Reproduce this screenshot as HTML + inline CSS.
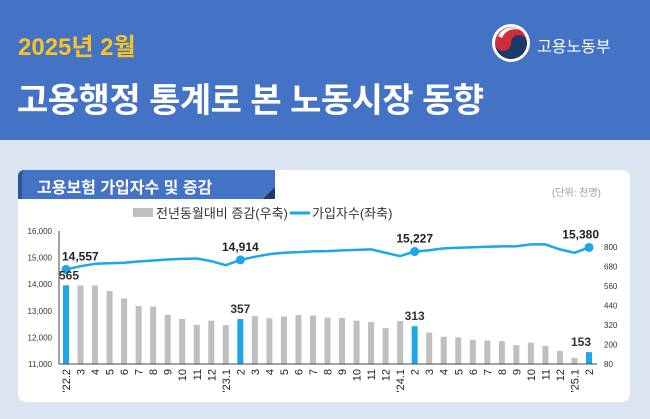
<!DOCTYPE html>
<html><head><meta charset="utf-8">
<style>
body{margin:0;width:650px;height:419px;overflow:hidden;background:#DCE4F2;font-family:"Liberation Sans","Noto Sans CJK KR",sans-serif;}
#hdr{position:absolute;left:0;top:0;width:650px;height:140px;background:#4472C4;}
.abs{position:absolute;white-space:nowrap;}
</style></head><body>
<div id="hdr"></div>
<div class="abs" style="left:18px;top:27px;font-size:24px;font-weight:bold;color:#F7C325;">2025년 2월</div>
<div class="abs" style="left:17px;top:73px;font-size:34px;font-weight:bold;color:#fff;letter-spacing:-0.5px;">고용행정 통계로 본 노동시장 동향</div>
<svg class="abs" style="left:490px;top:22px" width="42" height="42" viewBox="0 0 42 42">
<circle cx="21" cy="21" r="19" fill="#fff"/>
<circle cx="21" cy="21" r="16" fill="#CD2E3A"/>
<path d="M5 21 A16 16 0 0 0 37 21 A8 8 0 0 0 21 21 A8 8 0 0 1 5 21Z" fill="#1B3A6B"/>
<path d="M8 14 A15 15 0 0 1 30 8 A14 14 0 0 0 12 16Z" fill="#fff"/>
</svg>
<div class="abs" style="left:537px;top:33px;font-size:16px;color:#fff;">고용노동부</div>

<div class="abs" style="left:18px;top:170px;width:612px;height:232px;background:#fff;border-radius:8px;"></div>
<div class="abs" style="left:18px;top:170px;width:257px;height:29px;background:#4472C4;border-left:4px solid #2F5597;box-sizing:border-box;border-top-left-radius:6px;"></div>
<div class="abs" style="left:37px;top:174px;font-size:16px;font-weight:bold;color:#fff;">고용보험 가입자수 및 증감</div>
<div class="abs" style="left:552px;top:184px;font-size:10px;color:#999;">(단위: 천명)</div>

<svg id="chart" class="abs" style="left:0;top:0" width="650" height="419"></svg>
<script>
const categories=["'22.2","3","4","5","6","7","8","9","10","11","12","'23.1","2","3","4","5","6","7","8","9","10","11","12","'24.1","2","3","4","5","6","7","8","9","10","11","12","'25.1","2"];
const changeValues=[565,564,564,530,484,438,434,383,358,322,347,320,357,375,362,373,381,379,366,364,347,339,301,345,313,274,248,244,229,225,221,196,211,192,160,118,153];
const subscriberValues=[14557,14677,14766,14790,14810,14854,14890,14930,14950,14967,14866,14715,14914,15030,15131,15180,15205,15232,15244,15270,15290,15307,15181,15055,15227,15280,15345,15370,15390,15408,15420,15430,15496,15496,15307,15181,15380];
const leftTicks=[11000,12000,13000,14000,15000,16000];
const rightTicks=[80,200,320,440,560,680,800];
const highlightIdx=[0,12,24,36];
const subLabels=["14,557","14,914","15,227","15,380"];
const chgLabels=["565","357","313","153"];

const NS="http://www.w3.org/2000/svg";
const svg=document.getElementById('chart');
const yTop=231,yBot=364,x0=66,x1=589;
const xS=i=>x0+i*(x1-x0)/(categories.length-1);
const yL=v=>yBot-(v-11000)/5000*(yBot-yTop);
const yR=v=>yBot-(v-80)/820*(yBot-yTop);
function mk(t,a,txt){const e=document.createElementNS(NS,t);for(const k in a)e.setAttribute(k,a[k]);if(txt!=null)e.textContent=txt;svg.appendChild(e);return e;}
const F='"Liberation Sans","Noto Sans CJK KR",sans-serif';
let e=mk('path',{d:'M263 199 L275 187 L275 199Z',fill:'#1F3864'});

e=mk('rect',{x:133,y:208,width:20,height:9,fill:'#BFBFBF'});

e=mk('text',{x:156,y:218,'font-size':13,fill:'#333','font-family':F},'전년동월대비 증감(우축)');

e=mk('line',{x1:290,x2:310,y1:213,y2:213,stroke:'#1BA7E8','stroke-width':3});

e=mk('text',{x:312,y:218,'font-size':13,fill:'#333','font-family':F},'가입자수(좌축)');

leftTicks.forEach(v=>{
  const t=mk('text',{x:52,y:yL(v)+3,'font-size':8,fill:'#333','text-anchor':'end','font-family':F},v.toLocaleString('en-US'));
  
});
rightTicks.forEach(v=>{
  const t=mk('text',{x:604,y:yR(v)+3,'font-size':8,fill:'#333','font-family':F},String(v));
  
});
changeValues.forEach((v,i)=>{
  const hl=highlightIdx.includes(i);
  const b=mk('rect',{x:xS(i)-3,y:yR(v),width:6,height:yBot-yR(v),fill:hl?'#1BA7E8':'#BFBFBF'});
  
});
e=mk('line',{x1:59,x2:59,y1:yTop,y2:yBot,stroke:'#444','stroke-width':1});

e=mk('line',{x1:59,x2:597,y1:yBot,y2:yBot,stroke:'#444','stroke-width':1});

const pts=subscriberValues.map((v,i)=>xS(i).toFixed(1)+','+yL(v).toFixed(1)).join(' ');
e=mk('polyline',{points:pts,fill:'none',stroke:'#1BA7E8','stroke-width':2.5,'stroke-linejoin':'round'});

highlightIdx.forEach((i,k)=>{
  const c=mk('circle',{cx:xS(i),cy:yL(subscriberValues[i]),r:4.5,fill:'#1BA7E8'});
  
  const last=i===categories.length-1, first=i===0;
  const t=mk('text',{x:first?xS(i)-4:(last?xS(i)+10:xS(i)),y:yL(subscriberValues[i])-9,'font-size':12,'font-weight':'bold',fill:'#222','text-anchor':first?'start':(last?'end':'middle'),'font-family':F},subLabels[k]);
  
  const t2=mk('text',{x:last?xS(i)+2:(first?xS(i)-7:xS(i)),y:yR(changeValues[i])-6,'font-size':12,'font-weight':'bold',fill:'#333','text-anchor':last?'end':(first?'start':'middle'),'font-family':F},chgLabels[k]);
  
});
categories.forEach((c,i)=>{
  const x=xS(i)+4,y=369;
  const t=mk('text',{x:x,y:y,'font-size':11,fill:'#222','text-anchor':'end','font-family':F,transform:`rotate(-90 ${x} ${y})`},c);
  
});
</script>
</body></html>
